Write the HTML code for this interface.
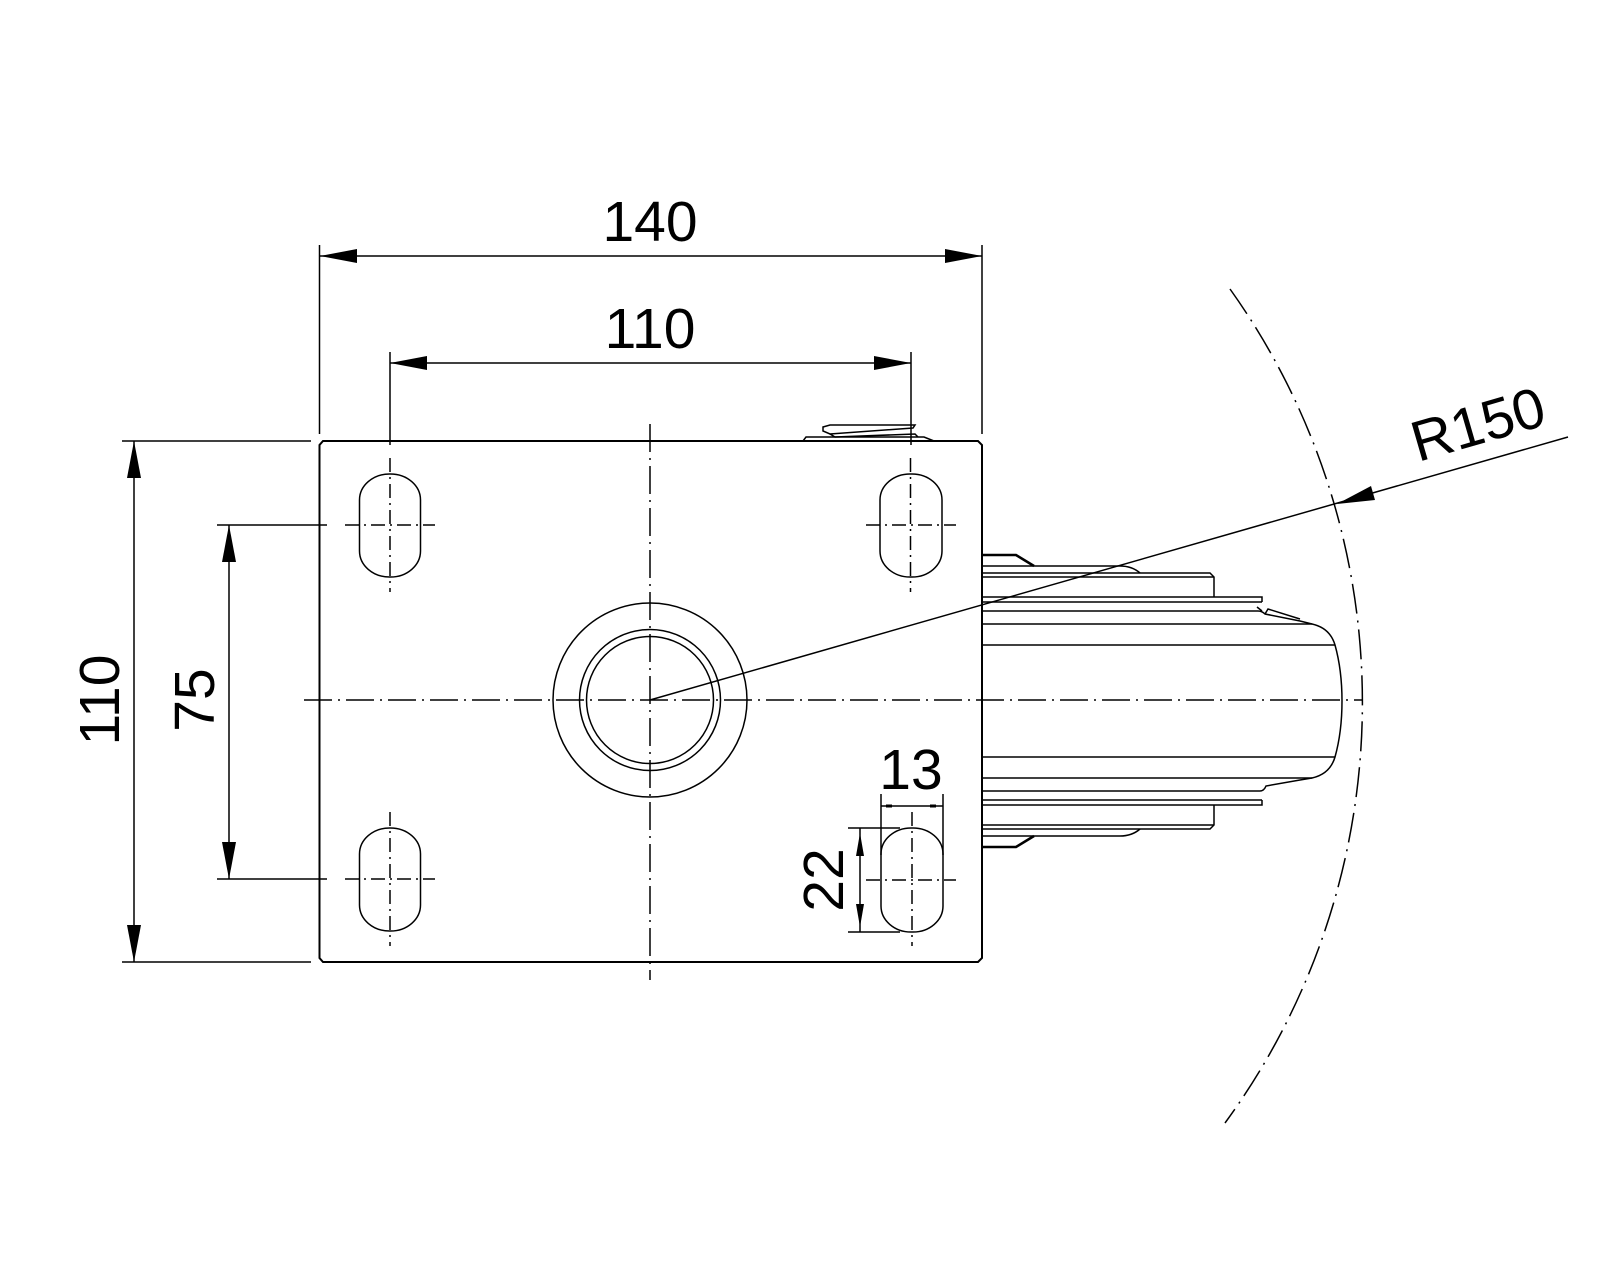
<!DOCTYPE html>
<html><head><meta charset="utf-8"><style>
html,body{margin:0;padding:0;background:#fff}
svg{display:block}
text{font-family:"Liberation Sans",Arial,sans-serif;font-size:57px;fill:#000}
</style></head><body>
<svg width="1600" height="1280" viewBox="0 0 1600 1280" xmlns="http://www.w3.org/2000/svg">
<defs>
<style>
.l{stroke:#000;stroke-width:2;fill:none}
.t{stroke:#000;stroke-width:1.5;fill:none}
.c{stroke:#000;stroke-width:1.5;fill:none;stroke-dasharray:28 6 2 6}
.a{fill:#000}
</style>
</defs>

<!-- plate -->
<path class="l" d="M323,441 H978 L982,445 V958 L978,962 H323 L319.5,958 V445 Z"/>
<!-- nub on top -->
<path class="t" d="M803,441 L806,437 L924,437 L934,441"/>
<path class="t" d="M823,427 L830,425 L915,425 L913,428 L830,434 L823,431 Z"/>
<path class="t" d="M830,434 L835,437 L915,434 L918,437"/>

<!-- centre lines -->
<line class="c" x1="304" y1="700" x2="1363" y2="700"/>
<line class="c" x1="650" y1="424" x2="650" y2="980"/>

<!-- hub circles -->
<circle class="t" cx="650" cy="700" r="97"/>
<circle class="t" cx="650" cy="700" r="70.5"/>
<circle class="t" cx="650" cy="700" r="63.5"/>

<!-- slots -->
<g>
<rect class="t" x="359.5" y="474" width="61" height="103" rx="30" ry="26"/>
<rect class="t" x="880" y="474" width="62" height="103" rx="30" ry="26"/>
<rect class="t" x="359.5" y="828" width="61" height="103" rx="30" ry="26"/>
<rect class="t" x="881" y="828" width="62" height="104" rx="30" ry="26"/>
</g>
<g class="c" style="stroke-dasharray:14 5 2 5">
<line x1="390" y1="458" x2="390" y2="592"/>
<line x1="910.5" y1="458" x2="910.5" y2="592"/>
<line x1="390" y1="812" x2="390" y2="946"/>
<line x1="912" y1="812" x2="912" y2="946"/>
<line x1="345" y1="525" x2="435" y2="525"/>
<line x1="866" y1="525" x2="956" y2="525"/>
<line x1="345" y1="879" x2="435" y2="879"/>
<line x1="866" y1="880" x2="956" y2="880"/>
</g>

<!-- wheel -->
<g class="t">
<path d="M982,555 H1016 L1034,566" style="stroke-width:2.6"/>
<path d="M982,847 H1016 L1034,836" style="stroke-width:2.6"/>
<path d="M982,566 H1120 Q1132,566 1140,573"/>
<path d="M982,836 H1120 Q1132,836 1140,829"/>
<path d="M982,573 H1210 L1214,577 V597"/>
<path d="M982,829 H1210 L1214,825 V805"/>
<line x1="982" y1="577" x2="1214" y2="577"/>
<line x1="982" y1="825" x2="1214" y2="825"/>
<path d="M982,597 H1262 V602"/>
<path d="M982,805 H1262 V800"/>
<line x1="982" y1="602" x2="1262" y2="602"/>
<line x1="982" y1="800" x2="1262" y2="800"/>
<path d="M982,611 H1258 Q1262,611 1265,614 L1300,621 L1312,624"/>
<path d="M1257,607 L1262,611 M1265,614 L1268,609 L1300,619"/>
<path d="M982,791 H1260 Q1264,791 1266,786 L1300,780 L1312,778"/>
<path d="M982,624 H1312 Q1330,628 1335,645 Q1342,670 1342,701 Q1342,732 1335,757 Q1330,774 1312,778 H982"/>
<line x1="982" y1="645" x2="1335" y2="645"/>
<line x1="982" y1="757" x2="1335" y2="757"/>
</g>

<!-- R150 arc -->
<path class="c" d="M1230,289 A712,712 0 0 1 1225,1123" style="stroke-dasharray:30 7 2 7"/>
<!-- R150 leader -->
<line class="t" x1="650" y1="700" x2="1568" y2="437"/>
<polygon class="a" points="1337,504 1371,486 1375,500"/>
<text transform="translate(1418,462) rotate(-16.2)">R150</text>

<!-- 140 dimension -->
<line class="t" x1="319.5" y1="245" x2="319.5" y2="434"/>
<line class="t" x1="982" y1="245" x2="982" y2="434"/>
<line class="t" x1="319.5" y1="256" x2="982" y2="256"/>
<polygon class="a" points="320,256 357,249 357,263"/>
<polygon class="a" points="982,256 945,249 945,263"/>
<text x="650" y="241" text-anchor="middle">140</text>

<!-- 110 top dimension -->
<line class="t" x1="390" y1="352" x2="390" y2="445"/>
<line class="t" x1="911" y1="352" x2="911" y2="445"/>
<line class="t" x1="390" y1="363" x2="911" y2="363"/>
<polygon class="a" points="390,363 427,356 427,370"/>
<polygon class="a" points="911,363 874,356 874,370"/>
<text x="650" y="348" text-anchor="middle">110</text>

<!-- 110 vertical -->
<line class="t" x1="122" y1="441" x2="311" y2="441"/>
<line class="t" x1="122" y1="962" x2="311" y2="962"/>
<line class="t" x1="134" y1="441" x2="134" y2="962"/>
<polygon class="a" points="134,441 127,478 141,478"/>
<polygon class="a" points="134,962 127,925 141,925"/>
<text transform="translate(119,700) rotate(-90)" text-anchor="middle">110</text>

<!-- 75 vertical -->
<line class="t" x1="217" y1="525" x2="327" y2="525"/>
<line class="t" x1="217" y1="879" x2="327" y2="879"/>
<line class="t" x1="229" y1="525" x2="229" y2="879"/>
<polygon class="a" points="229,525 222,562 236,562"/>
<polygon class="a" points="229,879 222,842 236,842"/>
<text transform="translate(214,700) rotate(-90)" text-anchor="middle">75</text>

<!-- 13 dimension -->
<line class="t" x1="881" y1="794" x2="881" y2="855"/>
<line class="t" x1="943" y1="794" x2="943" y2="855"/>
<line class="t" x1="881" y1="806" x2="943" y2="806"/>
<rect class="a" x="886" y="804.5" width="6" height="3"/>
<rect class="a" x="930" y="804.5" width="6" height="3"/>
<text x="911" y="789" text-anchor="middle">13</text>

<!-- 22 dimension -->
<line class="t" x1="848" y1="828" x2="900" y2="828"/>
<line class="t" x1="848" y1="932" x2="900" y2="932"/>
<line class="t" x1="860" y1="828" x2="860" y2="932"/>
<polygon class="a" points="860,833 856,856 864,856"/>
<polygon class="a" points="860,927 856,904 864,904"/>
<text transform="translate(843,880) rotate(-90)" text-anchor="middle">22</text>
</svg>
</body></html>
